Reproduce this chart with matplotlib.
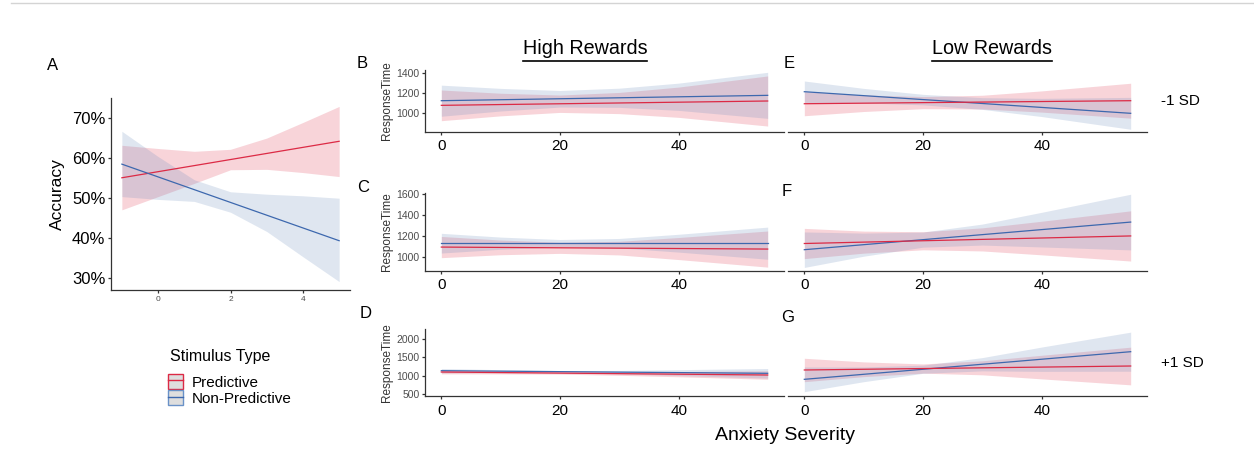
import numpy as np
import matplotlib
matplotlib.use("Agg")
import matplotlib.pyplot as plt
from matplotlib.lines import Line2D
from matplotlib.patches import Patch
from matplotlib.ticker import FuncFormatter

plt.rcParams['font.family'] = ['Liberation Sans', 'DejaVu Sans']

RED = '#DC2A45'
BLUE = '#3D68AE'
AXCOL = '#333333'

# ---- panel A: accuracy by stimulus type ----
acc_x = [-1, 0, 1, 2, 3, 4, 5]
acc_pred_line = [55.1, 64.2]          # at x = -1 and x = 5
acc_nonpred_line = [58.5, 39.4]
acc_pred_hi = [63.2, 62.4, 61.7, 62.2, 65.0, 68.9, 72.9]
acc_pred_lo = [47.1, 50.4, 53.7, 57.1, 57.2, 56.4, 55.4]
acc_nonpred_hi = [66.7, 60.4, 54.6, 51.6, 51.0, 50.6, 50.0]
acc_nonpred_lo = [50.4, 49.7, 49.2, 46.5, 41.7, 35.4, 29.2]

# ---- panels B-G: response time vs anxiety severity ----
anx_x = [0, 10, 20, 30, 40, 55]

# fitted lines at anxiety 0 and 55: (predictive, non-predictive)
rt_lines = {
    'B': ([1076, 1119], [1122, 1175]),
    'C': ([1094, 1075], [1131, 1131]),
    'D': ([1104, 1023], [1140, 1069]),
    'E': ([1092, 1122], [1211, 997]),
    'F': ([1128, 1200], [1069, 1332]),
    'G': ([1159, 1267], [906, 1655]),
}
# confidence bands: (pred upper, pred lower, nonpred upper, nonpred lower)
rt_bands = {
    'B': ([1228, 1196, 1178, 1204, 1257, 1367], [924, 972, 1006, 994, 957, 871],
          [1276, 1244, 1223, 1246, 1296, 1403], [968, 1020, 1059, 1056, 1026, 947]),
    'C': ([1195, 1161, 1140, 1149, 1185, 1247], [993, 1021, 1034, 1019, 975, 903],
          [1225, 1189, 1166, 1176, 1216, 1284], [1037, 1073, 1096, 1086, 1046, 978]),
    'D': ([1154, 1125, 1103, 1105, 1115, 1138], [1054, 1053, 1047, 1015, 975, 908],
          [1200, 1167, 1144, 1146, 1168, 1199], [1080, 1087, 1084, 1056, 1008, 939]),
    'E': ([1211, 1179, 1163, 1176, 1219, 1295], [973, 1015, 1043, 1040, 1009, 949],
          [1317, 1244, 1185, 1152, 1145, 1155], [1105, 1100, 1081, 1036, 965, 839]),
    'F': ([1272, 1246, 1240, 1277, 1340, 1439], [984, 1036, 1068, 1057, 1020, 961],
          [1238, 1227, 1237, 1313, 1425, 1597], [900, 1007, 1093, 1113, 1095, 1067]),
    'G': ([1477, 1379, 1323, 1408, 1558, 1778], [841, 979, 1073, 1028, 918, 756],
          [1241, 1242, 1289, 1495, 1781, 2185], [571, 842, 1069, 1135, 1121, 1125]),
}
row_ylim = [(815, 1426), (869, 1606), (454, 2262)]
row_yticks = [[1000, 1200, 1400], [1000, 1200, 1400, 1600], [500, 1000, 1500, 2000]]
row_strips = ['-1 SD', '', '+1 SD']
col_titles = ['High Rewards', 'Low Rewards']

W, H = 1254, 466
fig = plt.figure(figsize=(W / 100, H / 100), dpi=100)


def px_axes(left, top, right, bottom):
    return fig.add_axes([left / W, 1 - bottom / H, (right - left) / W, (bottom - top) / H])


def style(ax, left_spine=True):
    for s in ['top', 'right']:
        ax.spines[s].set_visible(False)
    for s in ['left', 'bottom']:
        ax.spines[s].set_color(AXCOL)
        ax.spines[s].set_linewidth(0.9)
    ax.tick_params(colors=AXCOL, length=2.5, width=0.9)
    if not left_spine:
        ax.spines['left'].set_visible(False)
        ax.tick_params(axis='y', left=False, labelleft=False)
    ax.patch.set_alpha(0)


# top rule
fig.add_artist(Line2D([11 / W, 1], [1 - 2.5 / H, 1 - 2.5 / H], color='#d4d4d4', lw=1))

# panel A
axA = px_axes(111, 98, 350, 290)
style(axA)
axA.fill_between(acc_x, acc_pred_lo, acc_pred_hi, color=RED, alpha=0.2, lw=0)
axA.fill_between(acc_x, acc_nonpred_lo, acc_nonpred_hi, color='#6E8FBF', alpha=0.22, lw=0)
axA.plot([acc_x[0], acc_x[-1]], acc_pred_line, color=RED, lw=0.9)
axA.plot([acc_x[0], acc_x[-1]], acc_nonpred_line, color=BLUE, lw=0.9)
axA.set_xlim(-1.3, 5.3)
axA.set_ylim(27.1, 75.0)
axA.set_xticks([0, 2, 4])
axA.set_yticks([30, 40, 50, 60, 70])
axA.yaxis.set_major_formatter(FuncFormatter(lambda v, p: f'{v:.0f}%'))
axA.tick_params(axis='x', labelsize=6, labelcolor='#4d4d4d', pad=2)
axA.tick_params(axis='y', labelsize=12, labelcolor='black', pad=1.5)
axA.set_ylabel('Accuracy', fontsize=12.5, labelpad=5)
fig.text(47 / W, 1 - 65 / H, 'A', fontsize=12, va='center', ha='left')

# panels B-G
col_lr = [(425, 784), (788, 1147)]
row_tb = [(70, 131.7), (193.3, 270.7), (329.3, 396)]
letters = [['B', 'E'], ['C', 'F'], ['D', 'G']]
letter_pos = {'B': (357, 63), 'E': (784, 63), 'C': (357, 187), 'F': (782, 192),
              'D': (360, 313), 'G': (781, 317)}

for r in range(3):
    for c in range(2):
        key = letters[r][c]
        l, rr = col_lr[c]
        t, b = row_tb[r]
        ax = px_axes(l, t, rr, b)
        style(ax, left_spine=(c == 0))
        p_hi, p_lo, n_hi, n_lo = rt_bands[key]
        p_line, n_line = rt_lines[key]
        ax.fill_between(anx_x, p_lo, p_hi, color=RED, alpha=0.2, lw=0)
        ax.fill_between(anx_x, n_lo, n_hi, color='#6E8FBF', alpha=0.22, lw=0)
        ax.plot([anx_x[0], anx_x[-1]], n_line, color=BLUE, lw=0.9)
        ax.plot([anx_x[0], anx_x[-1]], p_line, color=RED, lw=0.9)
        ax.set_xlim(-2.75, 57.75)
        ax.set_ylim(*row_ylim[r])
        ax.set_xticks([0, 20, 40])
        ax.set_yticks(row_yticks[r])
        ax.tick_params(axis='x', labelsize=11, labelcolor='black', pad=3)
        ax.tick_params(axis='y', labelsize=7.5, labelcolor='#4d4d4d', pad=1.5)
        if c == 0:
            ax.set_ylabel('ResponseTime', fontsize=8.5, color='#333333', labelpad=2.5)
        lx, ly = letter_pos[key]
        fig.text(lx / W, 1 - ly / H, key, fontsize=12, va='center', ha='left')
    if row_strips[r]:
        fig.text(1161 / W, 1 - (sum(row_tb[r]) / 2) / H, row_strips[r],
                 fontsize=11, va='center', ha='left')

# column titles, underlined
title_x = [585, 992]
title_objs = []
for tx, name in zip(title_x, col_titles):
    title_objs.append(fig.text(tx / W, 1 - 49 / H, name, fontsize=14.2, ha='center', va='center'))
fig.canvas.draw()
renderer = fig.canvas.get_renderer()
for tobj in title_objs:
    bb = tobj.get_window_extent(renderer)
    y = (bb.y0 - 2.0) / H
    fig.add_artist(Line2D([bb.x0 / W, bb.x1 / W], [y, y], color='black', lw=1.2))

fig.text(785 / W, 1 - 436 / H, 'Anxiety Severity', fontsize=14, ha='center', va='center')

# legend
fig.text(170 / W, 1 - 357 / H, 'Stimulus Type', fontsize=11.5, ha='left', va='center')
handles = [(Patch(facecolor='#dedede', edgecolor=RED, lw=1.0), Line2D([], [], color=RED, lw=1.0)),
           (Patch(facecolor='#dedede', edgecolor='#6A92C8', lw=1.0), Line2D([], [], color=BLUE, lw=1.0))]
leg = fig.legend(handles, ['Predictive', 'Non-Predictive'],
                 loc='upper left', bbox_to_anchor=(168 / W, 1 - 374 / H), frameon=False,
                 fontsize=11, handlelength=1.0, handleheight=1.12, borderpad=0,
                 labelspacing=0.04, handletextpad=0.55, borderaxespad=0)

fig.savefig('out.png', dpi=100)
